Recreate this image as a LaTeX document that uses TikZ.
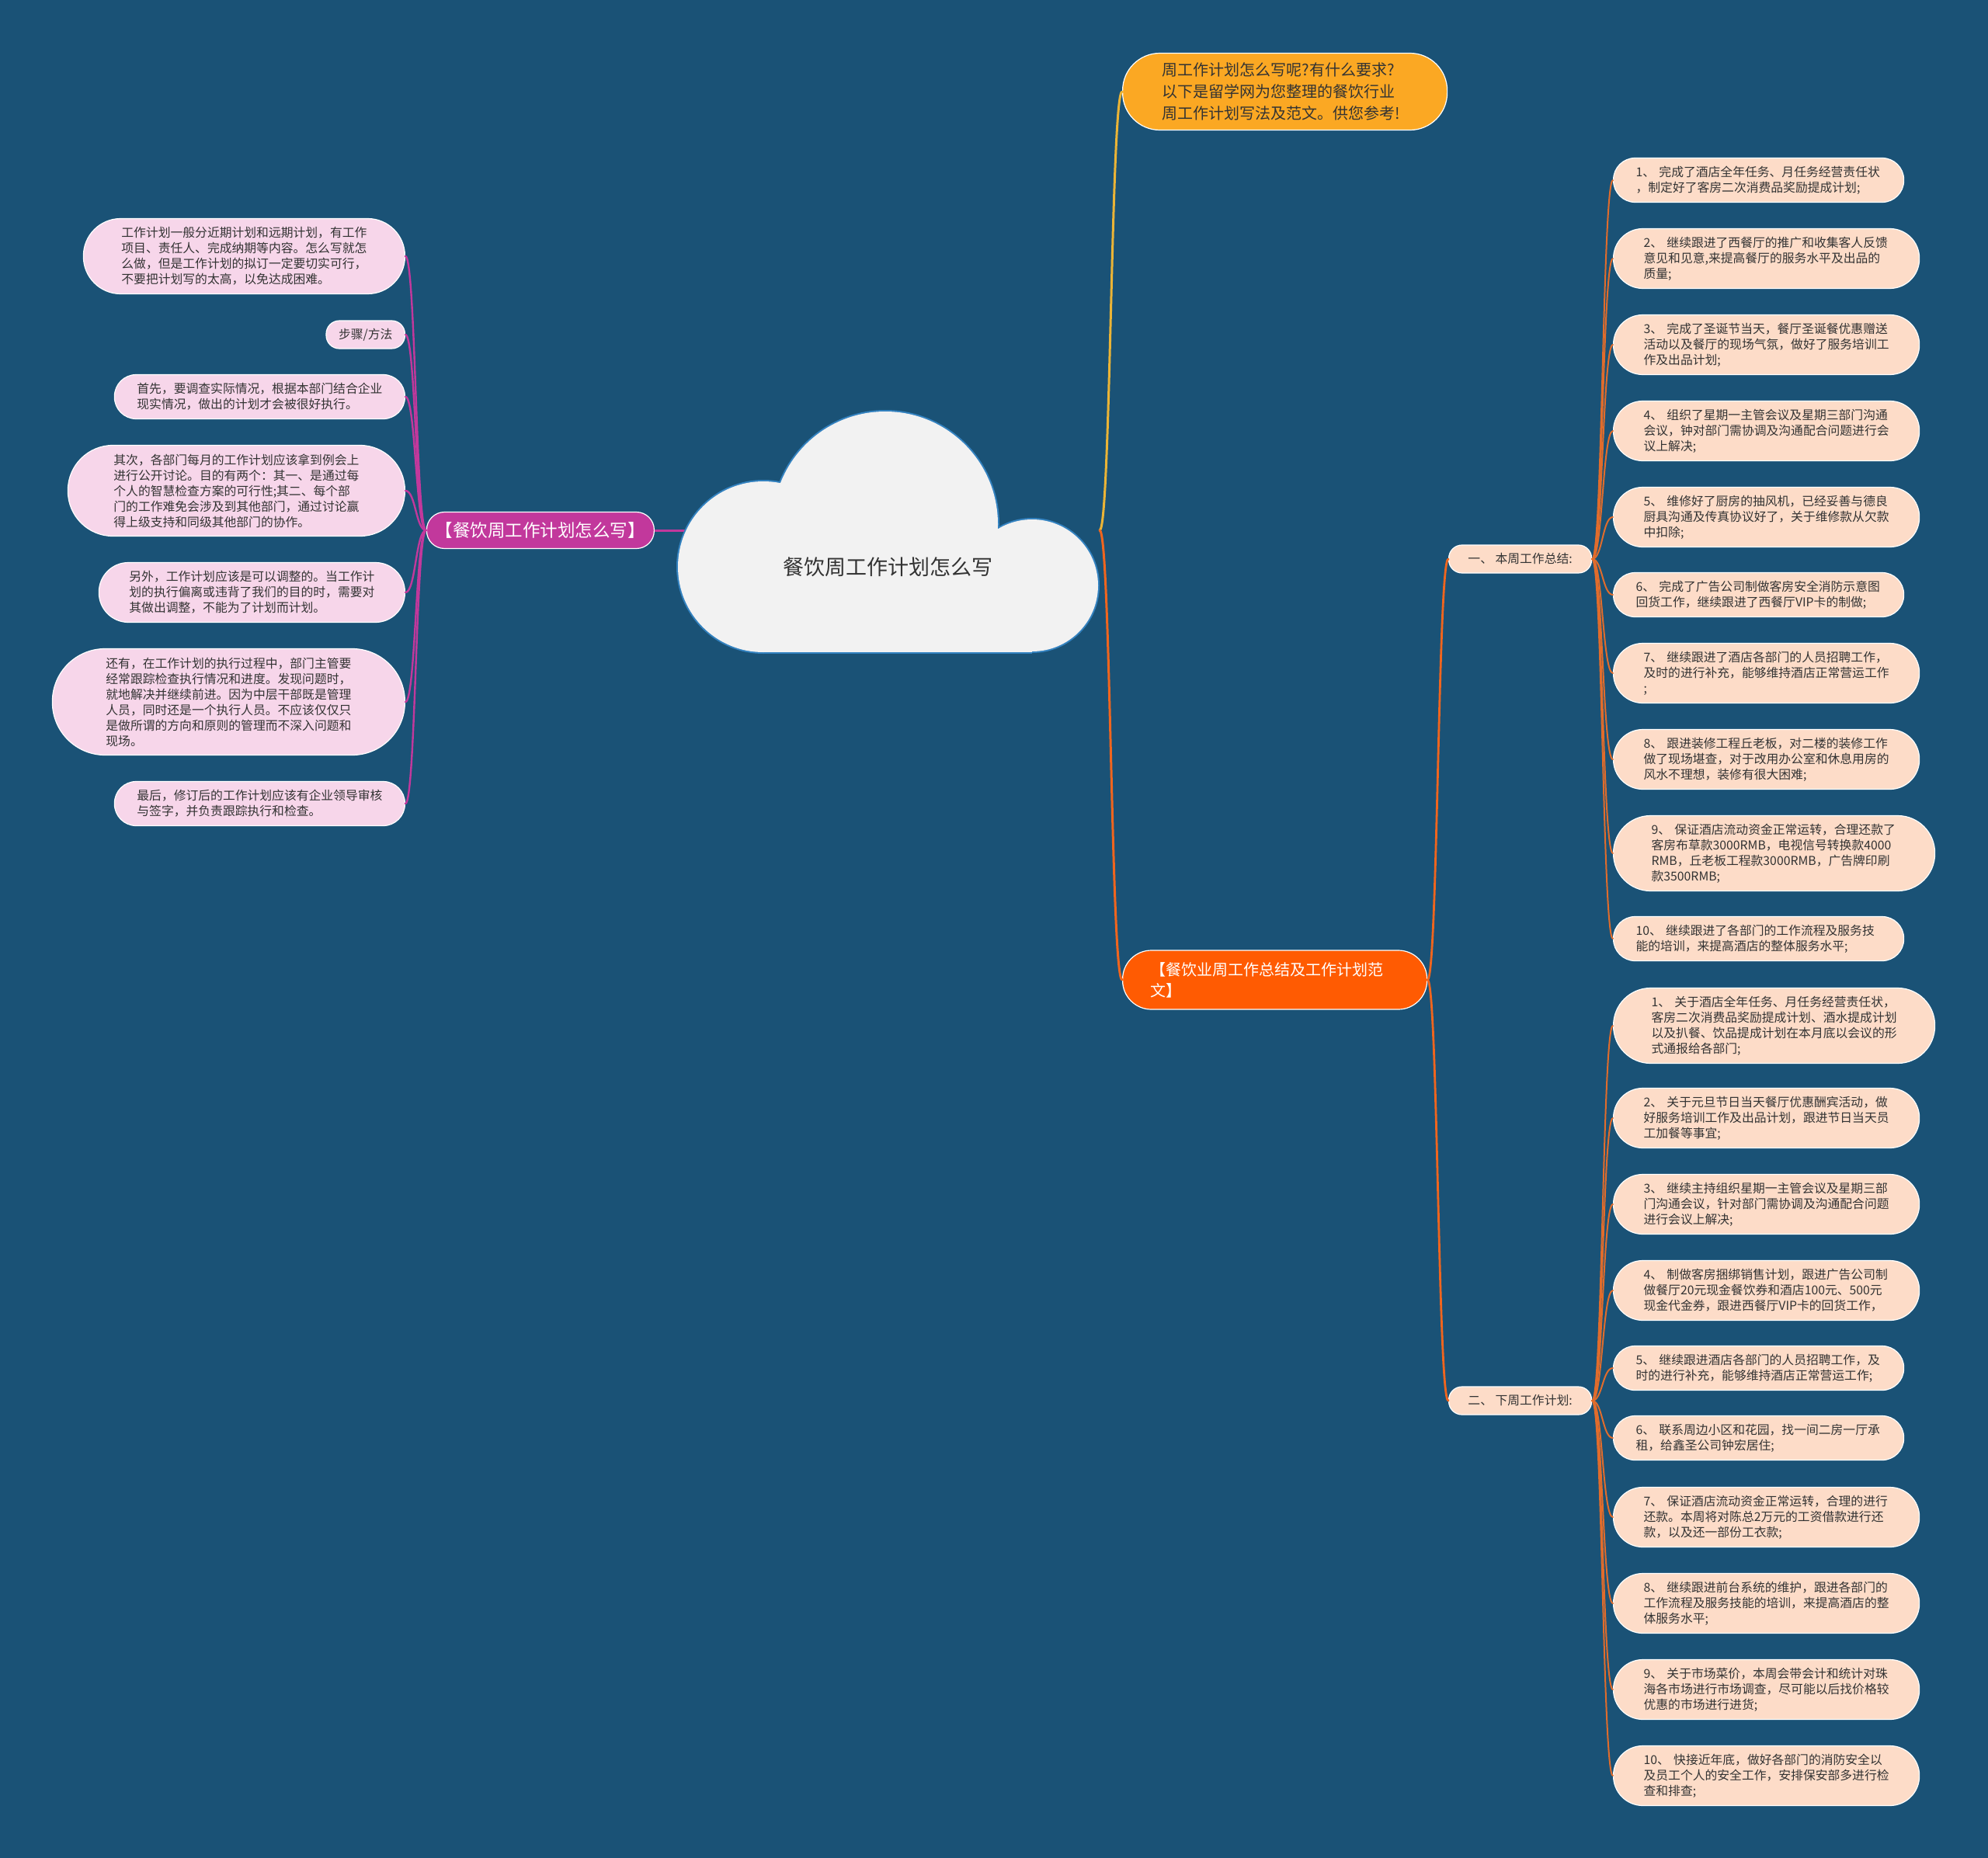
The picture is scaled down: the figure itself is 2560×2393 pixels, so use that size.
\documentclass[tikz,border=0pt]{standalone}
\usepackage{fontspec}
\setmainfont{Noto Sans CJK SC}
\usetikzlibrary{calc}
\definecolor{bgblue}{HTML}{1A5276}
\definecolor{cloudfill}{HTML}{F2F2F2}
\definecolor{cloudedge}{HTML}{3382C0}
\definecolor{magentab}{HTML}{C2389C}
\definecolor{pinkfill}{HTML}{F7D6EA}
\definecolor{goldfill}{HTML}{FBA823}
\definecolor{goldline}{HTML}{EBB436}
\definecolor{orangefill}{HTML}{FF5B02}
\definecolor{orangeline}{HTML}{F0651E}
\definecolor{leafline}{HTML}{E06C2C}
\definecolor{peachfill}{HTML}{FDDCC8}
\definecolor{ink}{HTML}{333333}

\begin{document}
\begin{tikzpicture}[
  x=1pt, y=-1pt,
  font=\fontsize{15.8}{20}\selectfont,
  link/.style={line width=2.4pt, line cap=round,
               to path={let \p1=(\tikztostart), \p2=(\tikztotarget) in
                        .. controls ({(\x1+\x2)/2},\y1) and ({(\x1+\x2)/2},\y2) .. (\tikztotarget)}},
  leaf/.style={draw=white, line width=1.2pt, align=left, inner ysep=0pt, text=ink},
  pinkleaf/.style={leaf, fill=pinkfill, anchor=east},
  peachleaf/.style={leaf, fill=peachfill, anchor=west},
  oneline/.style={minimum height=36pt, inner xsep=16pt, rounded corners=17pt},
  twoline/.style={text width=316pt, minimum height=57pt, inner xsep=29pt, rounded corners=28pt},
  threeline/.style={text width=316pt, minimum height=77pt, inner xsep=39pt, rounded corners=38pt},
  fourline/.style={text width=316pt, minimum height=97pt, inner xsep=49pt, rounded corners=48pt},
  fiveline/.style={text width=316pt, minimum height=117pt, inner xsep=59pt, rounded corners=58pt},
  sixline/.style={text width=316pt, minimum height=137pt, inner xsep=69pt, rounded corners=68pt},
  topic/.style={draw=white, line width=1.2pt, align=left, inner ysep=0pt,
                font=\fontsize{20}{27}\selectfont},
]
\useasboundingbox (0,0) rectangle (2560,2393);
\fill[bgblue] (0,0) rectangle (2560,2393);

% ---- left branch: how to write ----
\node[topic, fill=magentab, text=white, align=center, anchor=east, rounded corners=23pt,
      minimum width=293pt, minimum height=47pt, font=\fontsize{22.5}{26}\selectfont]
      (howto) at (843,683) {【餐饮周工作计划怎么写】};
\node[pinkleaf, fourline] (l1) at (522,330)
      {工作计划一般分近期计划和远期计划，有工作\\项目、责任人、完成纳期等内容。怎么写就怎\\么做，但是工作计划的拟订一定要切实可行，\\不要把计划写的太高，以免达成困难。};
\node[pinkleaf, oneline] (l2) at (522,431) {步骤/方法};
\node[pinkleaf, twoline] (l3) at (522,511)
      {首先，要调查实际情况，根据本部门结合企业\\现实情况，做出的计划才会被很好执行。};
\node[pinkleaf, fiveline] (l4) at (522,632)
      {其次，各部门每月的工作计划应该拿到例会上\\进行公开讨论。目的有两个：其一、是通过每\\个人的智慧检查方案的可行性;其二、每个部\\门的工作难免会涉及到其他部门，通过讨论赢\\得上级支持和同级其他部门的协作。};
\node[pinkleaf, threeline] (l5) at (522,763)
      {另外，工作计划应该是可以调整的。当工作计\\划的执行偏离或违背了我们的目的时，需要对\\其做出调整，不能为了计划而计划。};
\node[pinkleaf, sixline] (l6) at (522,904)
      {还有，在工作计划的执行过程中，部门主管要\\经常跟踪检查执行情况和进度。发现问题时，\\就地解决并继续前进。因为中层干部既是管理\\人员，同时还是一个执行人员。不应该仅仅只\\是做所谓的方向和原则的管理而不深入问题和\\现场。};
\node[pinkleaf, twoline] (l7) at (522,1035)
      {最后，修订后的工作计划应该有企业领导审核\\与签字，并负责跟踪执行和检查。};

% ---- right branch: intro and sample ----
\node[topic, fill=goldfill, text=ink, anchor=west, text width=316pt, inner xsep=51pt,
      minimum height=99pt, rounded corners=48pt, font=\fontsize{20}{28}\selectfont]
      (intro) at (1445,118)
      {周工作计划怎么写呢?有什么要求?\\以下是留学网为您整理的餐饮行业\\周工作计划写法及范文。供您参考!};
\node[topic, fill=orangefill, text=white, anchor=west, text width=320pt, inner xsep=36pt,
      minimum height=76pt, rounded corners=37pt]
      (sample) at (1445,1262) {【餐饮业周工作总结及工作计划范\\文】};
\node[peachleaf, oneline, minimum width=184pt] (sum) at (1865,720) {一、 本周工作总结:};
\node[peachleaf, oneline, minimum width=184pt] (plan) at (1865,1804) {二、 下周工作计划:};

% ---- this week ----
\node[peachleaf, twoline] (a1) at (2077,232)
      {1、 完成了酒店全年任务、月任务经营责任状\\，制定好了客房二次消费品奖励提成计划;};
\node[peachleaf, threeline] (a2) at (2077,333)
      {2、 继续跟进了西餐厅的推广和收集客人反馈\\意见和见意,来提高餐厅的服务水平及出品的\\质量;};
\node[peachleaf, threeline] (a3) at (2077,444)
      {3、 完成了圣诞节当天，餐厅圣诞餐优惠赠送\\活动以及餐厅的现场气氛，做好了服务培训工\\作及出品计划;};
\node[peachleaf, threeline] (a4) at (2077,555)
      {4、 组织了星期一主管会议及星期三部门沟通\\会议，钟对部门需协调及沟通配合问题进行会\\议上解决;};
\node[peachleaf, threeline] (a5) at (2077,666)
      {5、 维修好了厨房的抽风机，已经妥善与德良\\厨具沟通及传真协议好了，关于维修款从欠款\\中扣除;};
\node[peachleaf, twoline] (a6) at (2077,766)
      {6、 完成了广告公司制做客房安全消防示意图\\回货工作，继续跟进了西餐厅VIP卡的制做;};
\node[peachleaf, threeline] (a7) at (2077,867)
      {7、 继续跟进了酒店各部门的人员招聘工作，\\及时的进行补充，能够维持酒店正常营运工作\\;};
\node[peachleaf, threeline] (a8) at (2077,978)
      {8、 跟进装修工程丘老板，对二楼的装修工作\\做了现场堪查，对于改用办公室和休息用房的\\风水不理想，装修有很大困难;};
\node[peachleaf, fourline] (a9) at (2077,1099)
      {9、 保证酒店流动资金正常运转，合理还款了\\客房布草款3000RMB，电视信号转换款4000\\RMB，丘老板工程款3000RMB，广告牌印刷\\款3500RMB;};
\node[peachleaf, twoline] (a10) at (2077,1209)
      {10、 继续跟进了各部门的工作流程及服务技\\能的培训，来提高酒店的整体服务水平;};

% ---- next week ----
\node[peachleaf, fourline] (b1) at (2077,1321)
      {1、 关于酒店全年任务、月任务经营责任状，\\客房二次消费品奖励提成计划、酒水提成计划\\以及扒餐、饮品提成计划在本月底以会议的形\\式通报给各部门;};
\node[peachleaf, threeline] (b2) at (2077,1440)
      {2、 关于元旦节日当天餐厅优惠酬宾活动，做\\好服务培训工作及出品计划，跟进节日当天员\\工加餐等事宜;};
\node[peachleaf, threeline] (b3) at (2077,1551)
      {3、 继续主持组织星期一主管会议及星期三部\\门沟通会议，针对部门需协调及沟通配合问题\\进行会议上解决;};
\node[peachleaf, threeline] (b4) at (2077,1662)
      {4、 制做客房捆绑销售计划，跟进广告公司制\\做餐厅20元现金餐饮券和酒店100元、500元\\现金代金券，跟进西餐厅VIP卡的回货工作，};
\node[peachleaf, twoline] (b5) at (2077,1762)
      {5、 继续跟进酒店各部门的人员招聘工作，及\\时的进行补充，能够维持酒店正常营运工作;};
\node[peachleaf, twoline] (b6) at (2077,1852)
      {6、 联系周边小区和花园，找一间二房一厅承\\租，给鑫圣公司钟宏居住;};
\node[peachleaf, threeline] (b7) at (2077,1954)
      {7、 保证酒店流动资金正常运转，合理的进行\\还款。本周将对陈总2万元的工资借款进行还\\款，以及还一部份工衣款;};
\node[peachleaf, threeline] (b8) at (2077,2065)
      {8、 继续跟进前台系统的维护，跟进各部门的\\工作流程及服务技能的培训，来提高酒店的整\\体服务水平;};
\node[peachleaf, threeline] (b9) at (2077,2176)
      {9、 关于市场菜价，本周会带会计和统计对珠\\海各市场进行市场调查，尽可能以后找价格较\\优惠的市场进行进货;};
\node[peachleaf, threeline] (b10) at (2077,2287)
      {10、 快接近年底，做好各部门的消防安全以\\及员工个人的安全工作，安排保安部多进行检\\查和排查;};

% ---- connectors ----
\coordinate (cloudL) at (890,683);
\coordinate (cloudR) at (1416,683);
\draw[magentab, line width=3pt] (howto.east) -- (cloudL);
\foreach \leafname in {l1,l2,l3,l4,l5,l6,l7}
  \draw[link, magentab] (howto.west) to (\leafname.east);
\draw[link, goldline, line width=3pt] (cloudR) to (intro.west);
\draw[link, orangeline, line width=3pt] (cloudR) to (sample.west);
\draw[link, orangeline, line width=2.8pt] (sample.east) to (sum.west);
\draw[link, orangeline, line width=2.8pt] (sample.east) to (plan.west);
\foreach \i in {1,...,10} {
  \draw[link, leafline, line width=2pt] (sum.east) to (a\i.west);
  \draw[link, leafline, line width=2pt] (plan.east) to (b\i.west);
}

% ---- root cloud ----
\foreach \cx/\cy/\r in {983/730/110, 1140/675/145, 1329/754/85}
  \fill[cloudedge] (\cx,\cy) circle[radius=\r pt+2pt];
\fill[cloudedge] (983,727) rectangle (1329,842);
\foreach \cx/\cy/\r in {983/730/110, 1140/675/145, 1329/754/85}
  \fill[cloudfill] (\cx,\cy) circle[radius=\r pt];
\fill[cloudfill] (983,730) rectangle (1329,840);
\node[font=\fontsize{27}{32}\selectfont, text=ink] (root) at (1143,730) {餐饮周工作计划怎么写};
\end{tikzpicture}
\end{document}
